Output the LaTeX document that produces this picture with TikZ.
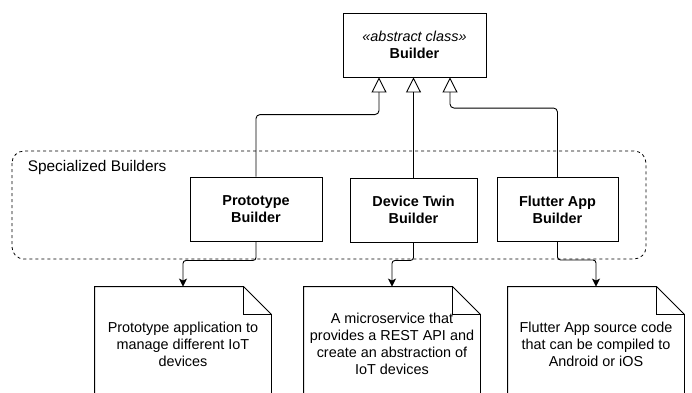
\documentclass[tikz,border=0pt]{standalone}
\usepackage{fontspec}
\setmainfont{Liberation Sans}
\usetikzlibrary{positioning,arrows.meta}

\begin{document}
\begin{tikzpicture}[x=1pt, y=-1pt, font=\fontsize{14.4}{17}\selectfont, line width=0.9pt,
    block/.style = {draw, minimum height=64pt, align=center, font=\fontsize{14.4}{17}\selectfont\bfseries},
    doc/.style = {minimum width=176pt, minimum height=114pt, align=center, inner sep=0pt},
    inherit/.style = {-{Triangle[open,length=15pt,width=15pt]}, rounded corners=4pt},
    flow/.style = {-{Stealth[length=8pt,width=8pt,inset=2pt]}, rounded corners=3pt}]
    \useasboundingbox (0,0) rectangle (692,392);
    \clip (0,0) rectangle (692,392);
    % group
    \draw[dashed, line width=0.8pt, rounded corners=12pt] (12,151) rectangle (646,259);
    \node[anchor=west, font=\fontsize{15.4}{18}\selectfont] (group) at (24,168) {Specialized Builders};
    % classes
    \node[draw, minimum width=143pt, minimum height=64pt, align=center](builder) at (414.5,45)
        {{\itshape «abstract class»}\\\textbf{Builder}};
    \node[block, minimum width=132pt](proto) at (256,209){Prototype\\Builder};
    \node[block, minimum width=127pt](twin) at (413.5,210){Device Twin\\Builder};
    \node[block, minimum width=121pt](flutter) at (557.5,209.5){Flutter App\\Builder};
    % documents
    \node[doc](protodoc) at (183,344){Prototype application to\\manage different IoT\\devices};
    \node[doc](twindoc) at (392,344){A microservice that\\provides a REST API and\\create an abstraction of\\IoT devices};
    \node[doc](flutterdoc) at (596,344){Flutter App source code\\that can be compiled to\\Android or iOS};
    \foreach \d in {protodoc,twindoc,flutterdoc}{
        \draw (\d.south west) -- (\d.north west) -- ([xshift=-28pt]\d.north east)
            -- ([yshift=-28pt]\d.north east) -- (\d.south east);
        \draw ([xshift=-28pt]\d.north east) |- ([yshift=-28pt]\d.north east);
    }
    % connectors
    \draw[inherit] (proto.north) -- ++(0,-62) -| ([xshift=-35.5pt]builder.south);
    \draw[inherit] (twin.north) -- (twin.north |- builder.south);
    \draw[inherit] (flutter.north) -- ++(0,-69) -| ([xshift=35.5pt]builder.south);
    \draw[flow] (proto.south) -- ++(0,19) -| (protodoc.north);
    \draw[flow] (twin.south) -- ++(0,18) -| (twindoc.north);
    \draw[flow] (flutter.south) -- ++(0,18) -| (flutterdoc.north);
\end{tikzpicture}
\end{document}
